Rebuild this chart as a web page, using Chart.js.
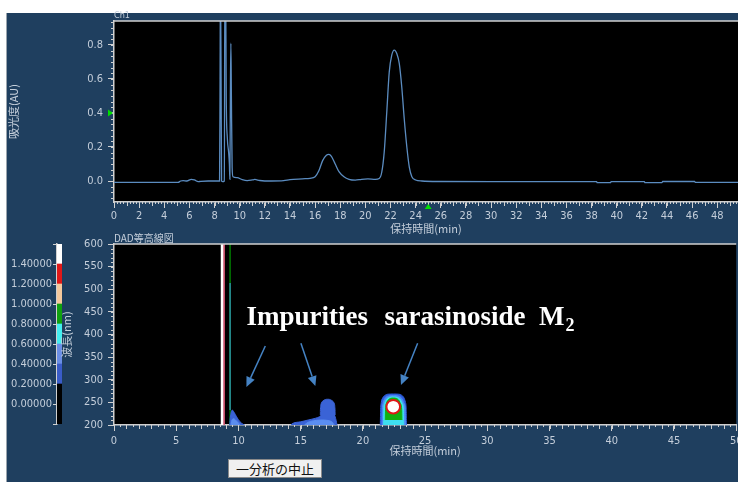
<!DOCTYPE html>
<html><head><meta charset="utf-8">
<script src="https://cdn.jsdelivr.net/npm/chart.js@4.4.0/dist/chart.umd.min.js"></script>
<style>
html,body{margin:0;padding:0;width:738px;height:482px;overflow:hidden;background:#fff;}
#panel{position:absolute;left:6px;top:13px;width:731px;height:469px;background:#1f3f5f;border-left:1px solid #9aa4ad;}
canvas{position:absolute;}
#btn{position:absolute;left:228px;top:459px;width:92px;height:17px;background:#f0f0f0;border:1px solid #8a8a8a;font:13px 'Noto Sans CJK JP',sans-serif;color:#111;text-align:center;line-height:17px;}
</style></head><body>
<div id="panel"></div>
<canvas id="bar" width="80" height="252" style="left:0;top:230px"></canvas>
<canvas id="top" width="738" height="240" style="left:0;top:0"></canvas>
<canvas id="dad" width="745" height="252" style="left:0;top:230px"></canvas>
<div id="btn">一分析の中止</div>
<script>
// ---- chromatogram (Ch1) ----
const rt = [0,5.1,5.3,5.5,5.8,6.15,6.4,6.7,6.9,7.5,8.4,8.44,8.47,8.52,8.56,8.65,8.78,8.82,8.88,8.93,9.02,9.12,9.18,9.22,9.26,9.3,9.34,9.4,9.47,9.8,10.2,10.6,11.0,11.2,11.6,12.5,13.5,14.0,15.0,15.6,16.0,16.3,16.6,16.9,17.1,17.3,17.6,17.9,18.3,18.7,19.2,19.7,20.2,20.8,21.1,21.3,21.5,21.7,21.9,22.1,22.3,22.5,22.7,22.9,23.1,23.3,23.5,23.7,24.0,24.5,26.0,30.0,38.4,38.45,39.5,39.55,42.2,42.25,43.6,43.65,46.2,46.25,49.65];
const au = [-0.008,-0.008,0,0.002,0,0.01,0.006,-0.004,-0.002,0,0,0.6,1.2,0.6,0,-0.004,0,1.2,1.2,0.5,0.25,0.17,0.1,0.01,0.5,0.81,0.5,0.08,0.025,0.02,0.008,0.002,0.006,0.009,0.003,0,0.002,0.008,0.013,0.016,0.025,0.06,0.12,0.152,0.157,0.145,0.10,0.055,0.025,0.01,0.005,0.01,0.012,0.01,0.015,0.05,0.17,0.40,0.64,0.74,0.77,0.75,0.69,0.55,0.36,0.2,0.08,0.025,0.006,0,-0.003,-0.004,-0.004,-0.01,-0.01,-0.004,-0.004,-0.01,-0.01,-0.003,-0.003,-0.008,-0.008];
const xTicksTop = [0,2,4,6,8,10,12,14,16,18,20,22,24,26,28,30,32,34,36,38,40,42,44,46,48];
const yTicksTop = [0,0.2,0.4,0.6,0.8];
const markerAU = 0.4, markerRT = 25;

// ---- DAD contour map ----
const xTicksDad = [0,5,10,15,20,25,30,35,40,45,50];
const yTicksDad = [200,250,300,350,400,450,500,550,600];
// vertical traces (time, wavelength from/to)
const vlineRT = [8.7, 8.85, 9.33, 9.33];
const vlineFrom = [200, 200, 200, 233];
const vlineTo = [600, 600, 600, 514];
// contour layers: impurity A (~9.5 min)
const impA1T = [9.30,9.32,9.40,9.50,9.65,9.85,10.10,10.40,10.50];
const impA1W = [200,210,226,233,228,218,208,201,200];
const impA2T = [9.40,9.45,9.60,9.80,10.00,10.15];
const impA2W = [200,208,214,210,204,200];
// impurity B (14-18 min): tail + neck
const impB1T = [14.2,14.4,15.0,15.6,16.2,16.5,16.7,17.2,17.7,17.85,17.92];
const impB1W = [200,204,207,211,215,218,222,224,222,210,200];
// impurity B head
const impBhT = [16.58,16.6,16.67,16.87,17.17,17.47,17.68,17.75,17.77];
const impBhW = [222,238,248.6,254.7,256.9,254.7,248.6,238,222];
const impB2T = [15.3,15.6,16.0,16.6,17.2,17.55,17.7];
const impB2W = [200,206,209,211,210,206,200];
// sarasinoside M2 (~22.4 min)
const sar1T = [21.40,21.43,21.48,21.60,21.80,22.00,22.45,22.90,23.10,23.30,23.42,23.48,23.50];
const sar1W = [200,235,250,260,266,268,268.5,268,266,260,250,235,200];
const sar2T = [21.55,21.57,21.62,21.74,21.95,22.45,22.95,23.16,23.30,23.40,23.42];
const sar2W = [200,235,248,257,263,265,263,257,248,235,200];
const sar3T = [21.66,21.68,21.74,21.86,22.05,22.45,22.85,23.04,23.18,23.26,23.28];
const sar3W = [200,235,247,255,260,262,260,255,247,235,200];
const sar4T = [21.80,21.82,21.88,22.00,22.20,22.45,22.70,22.90,23.02,23.12,23.14];
const sar4W = [211,235,247,254,258.5,259.5,258.5,254,247,235,211];
const sarCoreT = 22.44, sarCoreW = 240.4;
// annotations
const annotText = ['Impurities', 'sarasinoside  M'];
const annotSub = ['', '2'];
const annotRT = [10.64, 21.74];
const annotNM = [421, 421];
const arrowFromRT = [12.16, 15.02, 24.40];
const arrowFromNM = [374.6, 380.6, 380.6];
const arrowToRT = [10.64, 16.18, 23.06];
const arrowToNM = [284, 286, 288.4];

// ---- colour bar ----
const barLevels = [-0.2,0.2,0.4,0.6,0.8,1.0,1.2,1.4,1.6];
const barTicks = [-0.2,0,0.2,0.4,0.6,0.8,1.0,1.2,1.4,1.6];
const barColors = ['#000000','#3a5cc8','#6a8ee6','#44eef0','#10a010','#f4c89c','#e01818','#ffffff'];

const TXT = '#c4ceda';
const TICKFONT = {family:"'Liberation Sans Narrow','DejaVu Sans Condensed',sans-serif", size:11};
const CJKFONT = {family:"'Noto Sans CJK JP',sans-serif", size:11};
const AXIS = '#d0d0d0';

const minorTicks = {
  id:'minorTicks',
  afterDraw(chart, args, o){
    const ctx = chart.ctx; ctx.save(); ctx.strokeStyle = AXIS; ctx.lineWidth = 1;
    for (const id in o.axes){
      const s = chart.scales[id];
      for (const sp of o.axes[id]){
        for (let i = Math.ceil(s.min/sp.step - 1e-6); i*sp.step <= s.max + 1e-6; i++){
          const p = Math.round(s.getPixelForValue(i*sp.step)) + 0.5;
          ctx.beginPath();
          if (s.isHorizontal()){ ctx.moveTo(p, s.top); ctx.lineTo(p, s.top + sp.len); }
          else { ctx.moveTo(s.right, p); ctx.lineTo(s.right - sp.len, p); }
          ctx.stroke();
        }
      }
    }
    ctx.restore();
  }
};
const frame = {
  id:'frame',
  beforeDraw(chart, args, o){
    const ca = chart.chartArea, ctx = chart.ctx;
    ctx.save(); ctx.fillStyle = '#000'; ctx.fillRect(ca.left, ca.top, ca.right-ca.left, ca.bottom-ca.top); ctx.restore();
  },
  afterDraw(chart, args, o){
    const ca = chart.chartArea, ctx = chart.ctx;
    ctx.save(); ctx.strokeStyle = AXIS; ctx.lineWidth = 1.5;
    ctx.beginPath(); ctx.moveTo(ca.left, ca.top); ctx.lineTo(ca.right, ca.top); ctx.stroke();
    ctx.fillStyle = TXT; ctx.font = o.font; ctx.textBaseline = 'bottom'; ctx.textAlign = 'left';
    ctx.fillText(o.title, ca.left, ca.top - 1);
    ctx.restore();
  }
};
const markers = {
  id:'markers',
  afterDraw(chart, args, o){
    const ctx = chart.ctx, ca = chart.chartArea;
    ctx.save(); ctx.fillStyle = '#00e000';
    const y = chart.scales.y.getPixelForValue(o.yValue);
    ctx.beginPath(); ctx.moveTo(ca.left-1, y); ctx.lineTo(ca.left-6, y-3.5); ctx.lineTo(ca.left-6, y+3.5); ctx.fill();
    const x = chart.scales.x.getPixelForValue(o.xValue);
    ctx.beginPath(); ctx.moveTo(x, ca.bottom+2); ctx.lineTo(x-3.5, ca.bottom+7); ctx.lineTo(x+3.5, ca.bottom+7); ctx.fill();
    ctx.restore();
  }
};
const annot = {
  id:'annot',
  afterDatasetsDraw(chart){
    const ctx = chart.ctx, xs = chart.scales.x, ys = chart.scales.y;
    ctx.save();
    ctx.strokeStyle = '#4583c4'; ctx.fillStyle = '#4583c4'; ctx.lineWidth = 1.5;
    for (let i=0;i<arrowFromRT.length;i++){
      const x0=xs.getPixelForValue(arrowFromRT[i]), y0=ys.getPixelForValue(arrowFromNM[i]);
      const x1=xs.getPixelForValue(arrowToRT[i]), y1=ys.getPixelForValue(arrowToNM[i]);
      const a=Math.atan2(y1-y0,x1-x0), L=10, W=4.5;
      const bx=x1-L*Math.cos(a), by=y1-L*Math.sin(a);
      ctx.beginPath(); ctx.moveTo(x0,y0); ctx.lineTo(bx,by); ctx.stroke();
      ctx.beginPath(); ctx.moveTo(x1,y1); ctx.lineTo(bx+W*Math.sin(a), by-W*Math.cos(a)); ctx.lineTo(bx-W*Math.sin(a), by+W*Math.cos(a)); ctx.closePath(); ctx.fill();
    }
    ctx.fillStyle = '#ffffff'; ctx.textBaseline = 'alphabetic'; ctx.textAlign = 'left';
    for (let i=0;i<annotText.length;i++){
      const x=xs.getPixelForValue(annotRT[i]), y=ys.getPixelForValue(annotNM[i]);
      ctx.font = 'bold 27px "Liberation Serif"';
      ctx.fillText(annotText[i], x, y);
      if (annotSub[i]){
        const w = ctx.measureText(annotText[i]).width;
        ctx.font = 'bold 18px "Liberation Serif"';
        ctx.fillText(annotSub[i], x+w+1, y+6);
      }
    }
    ctx.restore();
  }
};

function fixTicks(arr){ return s => { s.ticks = arr.map(v => ({value:v})); }; }
function fitX(h){ return s => { s.height = h; s.paddingLeft = 0; s.paddingRight = 0; }; }
function fitY(w){ return s => { s.width = w; s.paddingTop = 0; s.paddingBottom = 0; }; }
const common = {responsive:false, animation:false, devicePixelRatio:1, events:[]};

// top chart
new Chart(document.getElementById('top'), {
  type:'line',
  data:{datasets:[{data: rt.map((t,i)=>({x:t,y:au[i]})), borderColor:'#5b8cc0', borderWidth:1.3, pointRadius:0, cubicInterpolationMode:'monotone', fill:false}]},
  options:Object.assign({}, common, {
    layout:{padding:{top:21,left:0,right:0,bottom:0}},
    plugins:{legend:{display:false}, tooltip:{enabled:false},
      frame:{title:'Ch1', font:"9px 'Liberation Sans Narrow','DejaVu Sans Condensed',sans-serif"},
      minorTicks:{axes:{x:[{step:0.25,len:2},{step:1,len:4}], y:[{step:0.2/6,len:3}]}},
      markers:{yValue:markerAU, xValue:markerRT}},
    scales:{
      x:{type:'linear', min:0, max:49.65, afterBuildTicks:fixTicks(xTicksTop), afterFit:fitX(38),
        ticks:{color:TXT, font:TICKFONT, maxRotation:0, autoSkip:false, padding:2, callback:v=>String(v)},
        grid:{drawOnChartArea:false, tickLength:6, tickColor:AXIS},
        border:{display:true, color:AXIS, width:1.5},
        title:{display:true, text:'保持時間(min)', color:TXT, font:CJKFONT, padding:{top:0,bottom:5}}},
      y:{type:'linear', min:-0.1235, max:0.941, afterBuildTicks:fixTicks(yTicksTop), afterFit:fitY(114),
        ticks:{color:TXT, font:TICKFONT, padding:5, autoSkip:false, callback:v=>v.toFixed(1)},
        grid:{drawOnChartArea:false, tickLength:6, tickColor:AXIS},
        border:{display:true, color:AXIS, width:1.5},
        title:{display:true, text:'吸光度(AU)', color:TXT, font:CJKFONT, padding:{top:7,bottom:0}}}
    }
  }),
  plugins:[frame, minorTicks, markers]
});

// DAD chart
function pts(ts, ws){ return ts.map((t,i)=>({x:t,y:ws[i]})); }
function layer(ts, ws, color, fill){ return {data:pts(ts,ws), borderColor:color, backgroundColor:color, borderWidth:1, pointRadius:0, fill:fill, cubicInterpolationMode:'monotone'}; }
const vColors = ['#ffffff','#e05a78','#007a00','#2a8ca0'];
const vWidths = [3,1.5,1.5,1.5];
const dadSets = [];
vlineRT.forEach((t,i)=>dadSets.push({data:[{x:t,y:vlineFrom[i]},{x:t,y:vlineTo[i]}], borderColor:vColors[i], borderWidth:vWidths[i], pointRadius:0, fill:false}));
dadSets.push(layer(impA1T, impA1W, '#3a63d6', 'start'));
dadSets.push(layer(impA2T, impA2W, '#5b8ef0', 'start'));
dadSets.push(layer(impB1T, impB1W, '#3a63d6', 'start'));
const head = layer(impBhT, impBhW, '#3a63d6', 'start');
head.cubicInterpolationMode = 'default'; head.tension = 0.45;
dadSets.push(head);
dadSets.push(layer(impB2T, impB2W, '#5b8ef0', 'start'));
dadSets.push(layer(sar1T, sar1W, '#2f5fe0', 'start'));
dadSets.push(layer(sar2T, sar2W, '#4f8df5', 'start'));
dadSets.push(layer(sar3T, sar3W, '#3ee0f0', 'start'));
dadSets.push(layer(sar4T, sar4W, '#10b010', {value:211}));
dadSets.push({data:[{x:sarCoreT,y:sarCoreW}], showLine:false, pointRadius:6.8, pointBorderWidth:2, pointBackgroundColor:'#ffffff', pointBorderColor:'#e01818', fill:false});
dadSets.forEach((d,i)=>{ d.order = dadSets.length - i; });

new Chart(document.getElementById('dad'), {
  type:'line',
  data:{datasets:dadSets},
  options:Object.assign({}, common, {
    layout:{padding:{top:14,left:0,right:5,bottom:0}},
    plugins:{legend:{display:false}, tooltip:{enabled:false},
      frame:{title:'DAD等高線図', font:"10px 'Noto Sans CJK JP',sans-serif"},
      minorTicks:{axes:{x:[{step:0.5,len:2},{step:1,len:4}], y:[{step:10,len:3}]}}},
    scales:{
      x:{type:'linear', min:0, max:50, afterBuildTicks:fixTicks(xTicksDad), afterFit:fitX(57),
        ticks:{color:TXT, font:TICKFONT, maxRotation:0, autoSkip:false, padding:4, callback:v=>String(v)},
        grid:{drawOnChartArea:false, tickLength:6, tickColor:AXIS},
        border:{display:true, color:AXIS, width:1.5},
        title:{display:true, text:'保持時間(min)', color:TXT, font:CJKFONT, padding:{top:0,bottom:25}}},
      y:{type:'linear', min:200, max:600, afterBuildTicks:fixTicks(yTicksDad), afterFit:fitY(114),
        ticks:{color:TXT, font:TICKFONT, padding:5, autoSkip:false, callback:v=>String(v)},
        grid:{drawOnChartArea:false, tickLength:6, tickColor:AXIS},
        border:{display:true, color:AXIS, width:1.5},
        title:{display:true, text:'波長(nm)', color:TXT, font:CJKFONT, padding:{top:60,bottom:0}}}
    }
  }),
  plugins:[frame, minorTicks, annot]
});

// colour bar
new Chart(document.getElementById('bar'), {
  type:'bar',
  data:{labels:[''], datasets: barColors.map((c,i)=>({data:[[barLevels[i], barLevels[i+1]]], backgroundColor:c, grouped:false, barPercentage:1, categoryPercentage:1, borderWidth:0}))},
  options:Object.assign({}, common, {
    layout:{padding:{top:14,left:0,right:18,bottom:58}},
    plugins:{legend:{display:false}, tooltip:{enabled:false}},
    scales:{
      x:{display:false},
      y:{min:-0.2, max:1.6, afterBuildTicks:fixTicks(barTicks), afterFit:fitY(57),
        ticks:{color:TXT, font:TICKFONT, padding:1, autoSkip:false, callback:v=>(v<-0.1||v>1.5)?'':v.toFixed(5)},
        grid:{drawOnChartArea:false, tickLength:4, tickColor:AXIS},
        border:{display:true, color:AXIS, width:1.5}}
    }
  })
});
</script>
</body></html>
